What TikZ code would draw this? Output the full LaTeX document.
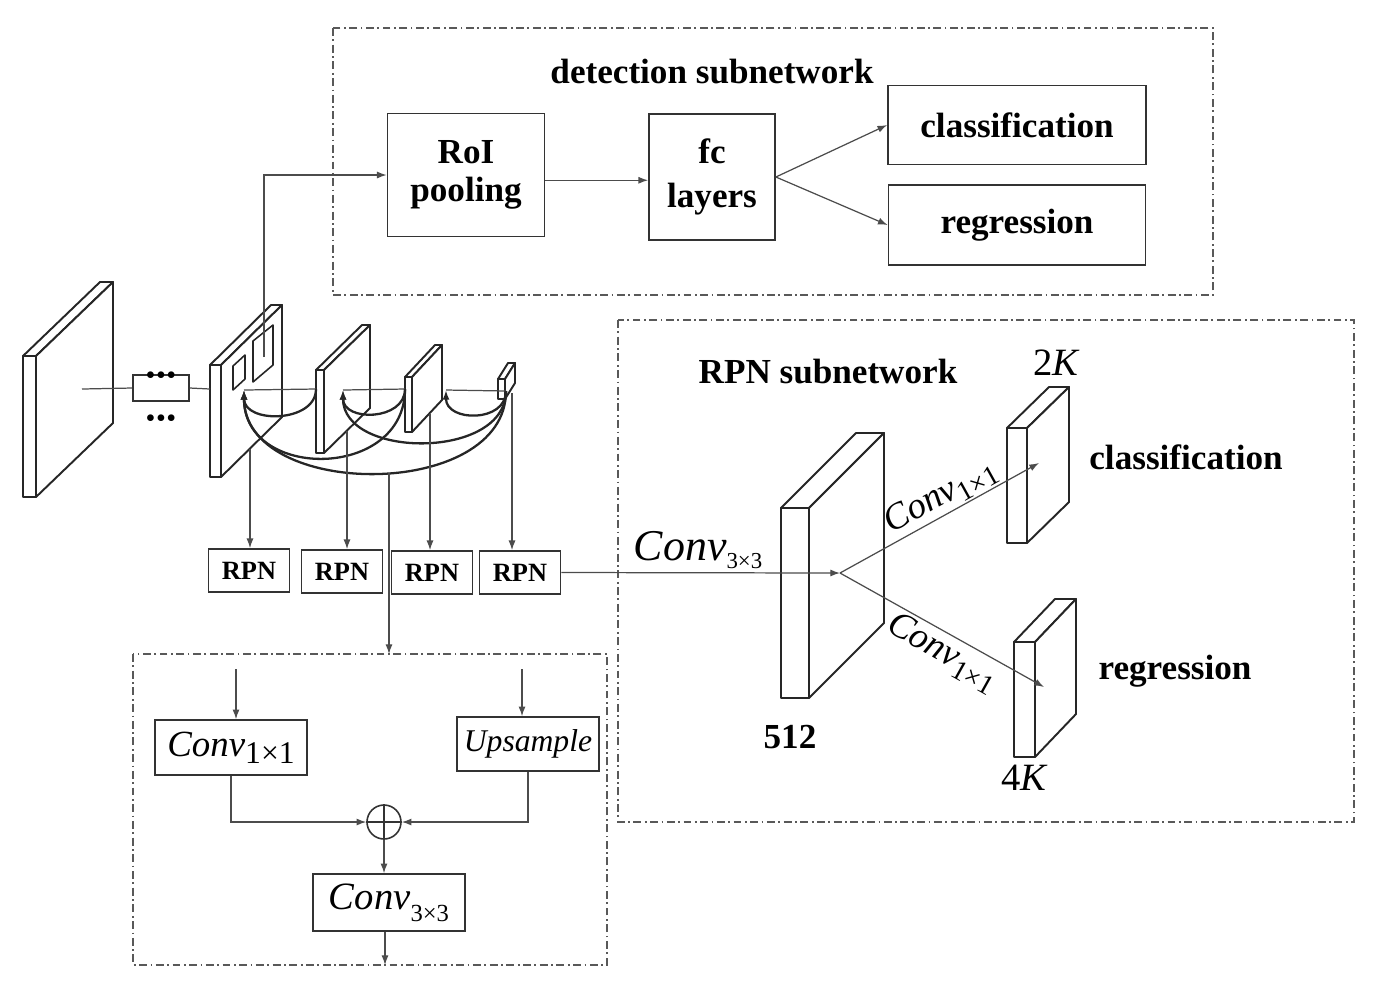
\documentclass[tikz,border=0pt]{standalone}
\usepackage{fontspec}
\setmainfont{Liberation Serif}
\usepackage{tikz}
\usetikzlibrary{arrows.meta}
\tikzset{
	box/.style={draw=black!80,line width=1pt,inner sep=0pt,align=center,font=\bfseries\fontsize{20}{25}\selectfont},
	rpn box/.style={box,minimum width=1.62cm,minimum height=0.86cm,font=\bfseries\fontsize{15}{18}\selectfont},
	op box/.style={draw=black!80,line width=0.9pt,inner sep=0pt},
	frame/.style={draw=black!65,line width=0.9pt,dash pattern=on 4.5pt off 2pt on 1pt off 2pt},
	fmap/.style={draw=black!85,line width=1.1pt,fill=white,line join=round},
	link/.style={->,draw=black!70,line width=0.7pt},
	skip/.style={->,draw=black!85,line width=1.3pt},
	title/.style={font=\bfseries\fontsize{20}{24}\selectfont},
	dots/.style={font=\fontsize{16}{16}\selectfont,inner sep=0pt}
}
% feature map slab: x, y (front top left), width, height, depth dx, dy
\newcommand{\fmapslab}[6]{%
	\draw[fmap] (#1,#2) rectangle (#1+#3,#2+#4);
	\draw[fmap] (#1,#2) -- (#1+#5,#2+#6) -- (#1+#3+#5,#2+#6) -- (#1+#3,#2) -- cycle;
	\draw[fmap] (#1+#3,#2) -- (#1+#3+#5,#2+#6) -- (#1+#3+#5,#2+#4+#6) -- (#1+#3,#2+#4) -- cycle;
}
% conv label: size of Conv, size of subscript, drop, subscript
\newcommand{\convop}[4]{{\fontsize{#1}{#1}\selectfont\itshape Conv\/}{\fontsize{#2}{#2}\selectfont\raisebox{-#3}{#4}}}

\begin{document}
\begin{tikzpicture}[x=0.02cm,y=-0.02cm,>={Latex[length=5.5pt,width=4pt]}]
\useasboundingbox (0,0) rectangle (1378,992);

% detection subnetwork
\draw[frame] (333,28) rectangle (1213,295);
\node[title] (dettitle) at (712,72) {detection subnetwork};
\node[box,minimum width=3.14cm,minimum height=2.46cm] (roi) at (466,175) {\raisebox{-3pt}{RoI}\\pooling};
\node[box,minimum width=2.52cm,minimum height=2.52cm] (fc) at (712,177) {fc\\layers};
\node[box,minimum width=5.16cm,minimum height=1.58cm] (cls) at (1017,125) {classification};
\node[box,minimum width=5.14cm,minimum height=1.6cm] (reg) at (1017,225) {regression};
\draw[link] ([yshift=-3pt]roi.east) -- ([yshift=-3pt]roi.east -| fc.west);
\draw[link] (fc.east) -- (cls.west);
\draw[link] (fc.east) -- (reg.west);

% backbone and pyramid
\fmapslab{23}{356}{13}{141}{77}{-74}
\fmapslab{210}{365}{11}{112}{61}{-60}
\fmapslab{316}{370}{8}{83}{46}{-45}
\fmapslab{405}{377}{7}{55}{30}{-32}
\fmapslab{498}{379}{7}{20}{10}{-16}
\draw[fmap,line width=0.9pt] (233,366) -- (245,355) -- (245,379) -- (233,390) -- cycle;
\draw[fmap,line width=0.9pt] (253,341) -- (273,325) -- (273,365) -- (253,382) -- cycle;

\node[op box,minimum width=1.12cm,minimum height=0.52cm] (blk) at (161,388) {};
\node[dots] (blkdots) at (161,378.5) {•\hspace{0.3pt}•\hspace{0.3pt}•};
\node[dots] (moredots) at (161,421) {•\hspace{0.3pt}•\hspace{0.3pt}•};
\coordinate (src) at (82,389);
\coordinate (p2f) at (210,389);
\draw[link,-] (src) -- (blk.west);
\draw[link,-] (blk.east) -- (p2f);

\coordinate (roisrc) at (264,357);
\draw[link] (roisrc) |- (roi.west);

\coordinate (a2) at (244,390);
\coordinate (a3) at (343,390);
\coordinate (a4) at (446,390);
\coordinate (r3) at (316,389);
\coordinate (r4) at (405,389);
\coordinate (r5) at (506,391);
\draw[link,-] (a2) -- (r3);
\draw[link,-] (a3) -- (r4);
\draw[link,-] (a4) -- (r5);
\draw[skip] (r3) .. controls +(0,34) and +(0,34) .. (a2);
\draw[skip] (r4) .. controls +(0,32) and +(0,32) .. (a3);
\draw[skip] (r5) .. controls +(0,32) and +(0,32) .. (a4);
\draw[skip] (r4) .. controls +(0,91) and +(0,91) .. (a2);
\draw[skip] (r5) .. controls +(0,69) and +(0,69) .. (a3);
\draw[skip] (r5) .. controls +(0,110) and +(0,110) .. (a2);

% RPN heads
\node[rpn box] (rpn1) at (249,570.5) {RPN};
\node[rpn box] (rpn2) at (342,571.5) {RPN};
\node[rpn box] (rpn3) at (432,572.5) {RPN};
\node[rpn box] (rpn4) at (520,572.5) {RPN};
\coordinate (d2) at (250,449);
\coordinate (d3) at (347,431);
\coordinate (d4) at (430,414);
\coordinate (d5) at (512,393);
\draw[link] (d2) -- (d2 |- rpn1.north);
\draw[link] (d3) -- (d3 |- rpn2.north);
\draw[link] (d4) -- (d4 |- rpn3.north);
\draw[link] (d5) -- (d5 |- rpn4.north);

% merge block
\draw[frame] (133,654) rectangle (607,965);
\coordinate (fpn) at (389,473);
\coordinate (lowtop) at (389,654);
\draw[link] (fpn) -- (lowtop);
\node[op box,minimum width=3.04cm,minimum height=1.1cm] (conv11) at (231,747.5) {\convop{21}{18}{4pt}{1×1}};
\node[op box,minimum width=2.84cm,minimum height=1.08cm,font=\fontsize{18}{20}\selectfont\itshape] (ups) at (528,744) {Upsample};
\coordinate (c11in) at (236,669);
\coordinate (upin) at (522,669);
\draw[link] (c11in) -- (c11in |- conv11.north);
\draw[link] (upin) -- (upin |- ups.north);
\node[circle,draw=black!80,line width=0.9pt,minimum size=0.68cm,inner sep=0pt] (sum) at (384,822) {};
\draw[black!80,line width=0.9pt] (sum.north) -- (sum.south) (sum.west) -- (sum.east);
\draw[link] (conv11.south) |- (sum.west);
\draw[link] (ups.south) |- (sum.east);
\node[op box,minimum width=3.04cm,minimum height=1.14cm] (conv33) at (389,902.5) {\convop{22}{14}{7pt}{3×3}};
\coordinate (lowbot) at (385,965);
\draw[link] (sum.south) -- (sum.south |- conv33.north);
\draw[link] (lowbot |- conv33.south) -- (lowbot);

% RPN subnetwork
\draw[frame] (618,320) rectangle (1354,822);
\node[title] (rpntitle) at (828,372) {RPN subnetwork};
\fmapslab{781}{508}{28}{190}{75}{-75}
\fmapslab{1007}{428}{20}{115}{42}{-41}
\fmapslab{1014}{642}{21}{115}{41}{-43}
\node[title] (c512) at (790,737) {512};
\node[font=\fontsize{22}{26}\selectfont] (c2k) at (1057,363) {2\textit{K}};
\node[font=\fontsize{22}{26}\selectfont] (c4k) at (1025,778) {4\textit{K}};
\node[title] (rpncls) at (1186,457) {classification};
\node[title] (rpnreg) at (1175,671) {regression};
\coordinate (hub) at (840,573);
\coordinate (t2) at (1039,463);
\coordinate (t4) at (1044,687);
\draw[link] (rpn4.east) -- (hub);
\node (c33) at (698,550) {\convop{25}{13}{5pt}{3×3}};
\draw[link] (hub) -- node[sloped,above,pos=0.55,inner sep=1pt] (up11) {\convop{21}{16}{4pt}{1×1}} (t2);
\draw[link] (hub) -- node[sloped,below,pos=0.55,inner sep=2pt] (dn11) {\convop{21}{16}{4pt}{1×1}} (t4);
\end{tikzpicture}
\end{document}
